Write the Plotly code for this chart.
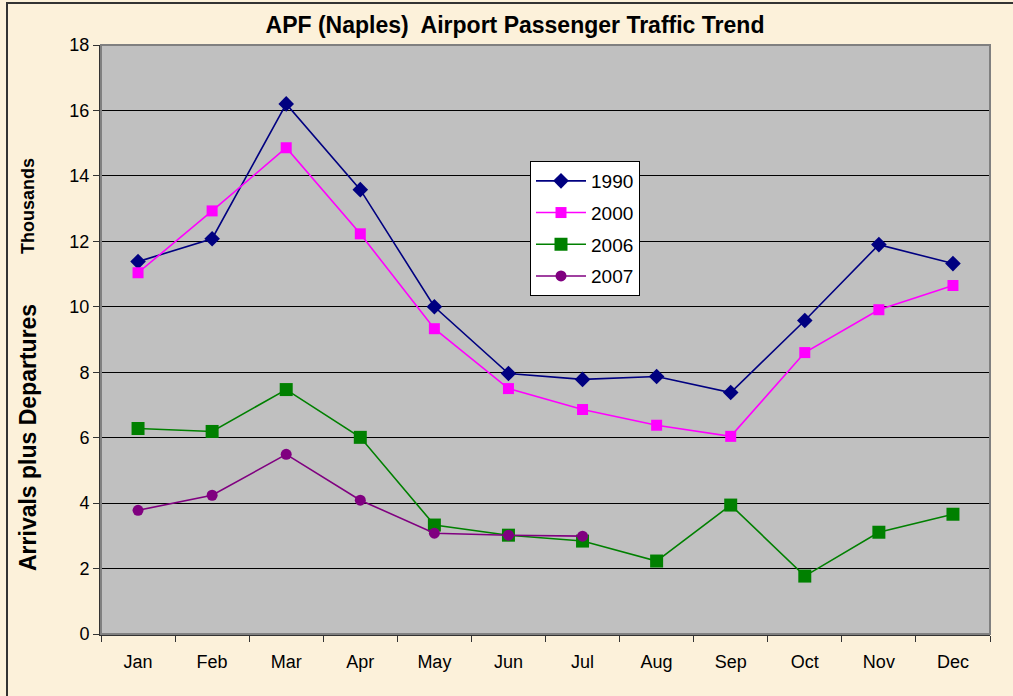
import plotly.graph_objects as go

months = ["Jan", "Feb", "Mar", "Apr", "May", "Jun", "Jul", "Aug", "Sep", "Oct", "Nov", "Dec"]
y1990 = [11.38, 12.08, 16.2, 13.58, 10.0, 7.96, 7.78, 7.87, 7.38, 9.58, 11.9, 11.32]
y2000 = [11.04, 12.93, 14.86, 12.23, 9.33, 7.5, 6.86, 6.38, 6.04, 8.6, 9.91, 10.65]
y2006 = [6.28, 6.19, 7.47, 6.01, 3.33, 3.02, 2.84, 2.23, 3.94, 1.77, 3.11, 3.66]
y2007 = [3.78, 4.24, 5.49, 4.09, 3.08, 3.02, 2.99]
y_ticks = [0, 2, 4, 6, 8, 10, 12, 14, 16, 18]

W, H = 1013, 696
L, R, T, B = 101, 23, 45, 62
pw, ph = W - L - R, H - T - B
FONT = "Liberation Sans, Arial, sans-serif"

fig = go.Figure()
series = [
    ("1990", y1990, "#000080", "diamond", 12),
    ("2000", y2000, "#FF00FF", "square", 11),
    ("2006", y2006, "#008000", "square", 13),
    ("2007", y2007, "#800080", "circle", 11),
]
for name, ys, col, sym, sz in series:
    fig.add_trace(go.Scatter(
        x=months[:len(ys)], y=ys, name=name, mode="lines+markers",
        legendgroup=name,
        line=dict(color=col, width=1.6),
        marker=dict(symbol=sym, size=sz, color=col),
    ))

fig.update_layout(
    width=W, height=H,
    margin=dict(l=L, r=R, t=T, b=B),
    paper_bgcolor="#FCF1DA",
    plot_bgcolor="#C0C0C0",
    font=dict(family=FONT, size=17, color="#000000"),
    title=dict(text="<b>APF (Naples)  Airport Passenger Traffic Trend</b>",
               x=515 / W, xanchor="center", y=1 - 25 / H, yanchor="middle",
               font=dict(size=23, family=FONT)),
    showlegend=True,
    legend=dict(x=(530 - L) / pw, y=1 - (161 - T) / ph, xanchor="left", yanchor="top",
                bgcolor="#FFFFFF", bordercolor="#000000", borderwidth=1,
                font=dict(size=19), itemwidth=50, tracegroupgap=4),
    xaxis=dict(
        type="category", categoryorder="array", categoryarray=months,
        range=[-0.5, 11.5], showgrid=False, showline=True, linecolor="#333333", linewidth=2,
        ticks="outside", ticklen=6, tickcolor="#333333", tickson="boundaries",
        tickfont=dict(size=18), ticklabelstandoff=10, zeroline=False,
    ),
    yaxis=dict(
        range=[0, 18], tickvals=y_ticks, showgrid=True, gridcolor="#000000", gridwidth=1,
        showline=True, linecolor="#333333", linewidth=2, ticks="outside", ticklen=6,
        tickcolor="#333333", tickfont=dict(size=18), zeroline=False,
    ),
    shapes=[
        dict(type="rect", xref="paper", yref="paper", x0=0, x1=1, y0=0, y1=1,
             line=dict(color="#808080", width=2), fillcolor="rgba(0,0,0,0)", layer="above"),
        dict(type="rect", xref="paper", yref="paper",
             x0=(7 - L) / pw, x1=(W + 10 - L) / pw,
             y0=-(H + 10 - T - ph) / ph, y1=1 + (T - 3) / ph,
             line=dict(color="#333333", width=2), fillcolor="rgba(0,0,0,0)"),
    ],
    annotations=[
        dict(text="<b>Arrivals plus Departures</b>", xref="paper", yref="paper",
             x=(28 - L) / pw, y=1 - (438 - T) / ph, textangle=-90, showarrow=False,
             xanchor="center", yanchor="middle", font=dict(size=23)),
        dict(text="<b>Thousands</b>", xref="paper", yref="paper",
             x=(28 - L) / pw, y=1 - (206 - T) / ph, textangle=-90, showarrow=False,
             xanchor="center", yanchor="middle", font=dict(size=18)),
    ],
)

fig.write_html("out.html", config={"displayModeBar": False},
               post_script="document.body.style.margin='0';")
